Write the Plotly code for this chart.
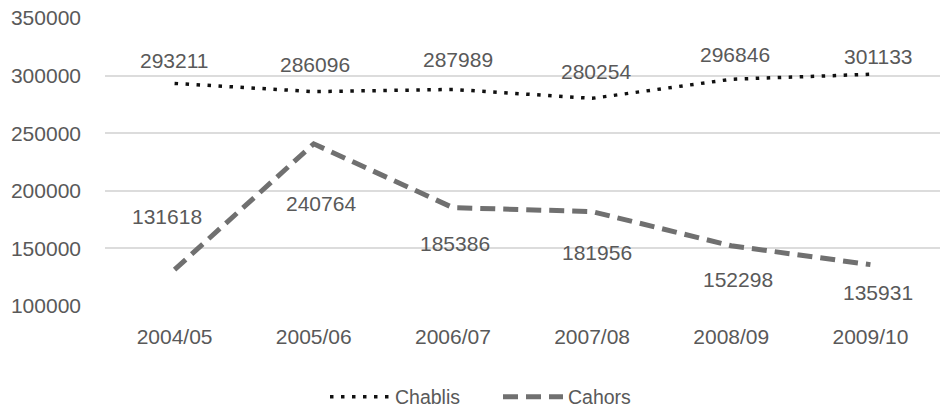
import plotly.graph_objects as go

seasons = ["2004/05", "2005/06", "2006/07", "2007/08", "2008/09", "2009/10"]
chablis = [293211, 286096, 287989, 280254, 296846, 301133]
cahors = [131618, 240764, 185386, 181956, 152298, 135931]
y_ticks = [100000, 150000, 200000, 250000, 300000, 350000]

# label offsets in pixels (x, y) relative to each point
chablis_offsets = [(0, 23), (1, 27), (5, 30), (4, 27), (4, 25), (8, 18)]
cahors_offsets = [(-8, 53), (7, -60), (2, -36), (5, -41), (7, -34), (8, -28)]

FONT = "Liberation Sans, Arial, sans-serif"
GREY = "#595959"

fig = go.Figure()
fig.add_trace(go.Scatter(
    x=seasons, y=chablis, name="Chablis", mode="lines",
    line=dict(color="#111111", width=3.5, dash="3.5px,7.5px"),
))
fig.add_trace(go.Scatter(
    x=seasons, y=cahors, name="Cahors", mode="lines",
    line=dict(color="#707070", width=5, dash="15px,8px"),
))

annotations = []
for series, offs in ((chablis, chablis_offsets), (cahors, cahors_offsets)):
    for s, v, (dx, dy) in zip(seasons, series, offs):
        annotations.append(dict(
            x=s, y=v, text=str(v), showarrow=False,
            xshift=dx, yshift=dy,
            font=dict(family=FONT, size=21, color=GREY),
        ))

fig.update_layout(
    width=942, height=412,
    margin=dict(l=105, r=2, t=18, b=106, autoexpand=False),
    paper_bgcolor="white", plot_bgcolor="white",
    font=dict(family=FONT, size=21, color=GREY),
    annotations=annotations,
    showlegend=True,
    legend=dict(orientation="h", xref="container", yref="container",
                x=0.345, xanchor="left", y=0.036, yanchor="middle",
                entrywidth=98, entrywidthmode="pixels",
                font=dict(family=FONT, size=19.5, color=GREY), itemwidth=60),
    xaxis=dict(range=[-0.5, 5.5], showgrid=False, showline=False, zeroline=False,
               ticks="", ticklabelstandoff=16,
               tickfont=dict(family=FONT, size=21, color=GREY)),
    yaxis=dict(range=[100000, 350000], tickvals=y_ticks,
               ticktext=[str(t) for t in y_ticks],
               showgrid=True, gridcolor="#dcdcdc", gridwidth=1.5,
               zeroline=False, showline=False, ticks="", ticklabelstandoff=23,
               tickfont=dict(family=FONT, size=21, color=GREY)),
)

fig.write_html("out.html")
